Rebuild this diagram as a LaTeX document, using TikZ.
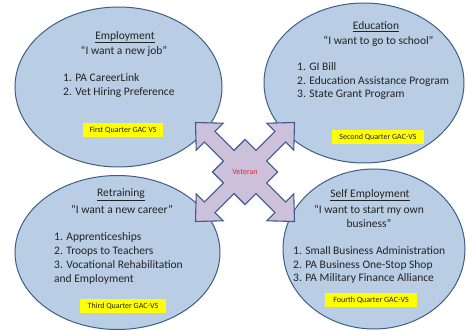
\documentclass[tikz,border=0pt]{standalone}
\usepackage{fontspec}
\setmainfont{Carlito}
\usepackage{tikz}
\usetikzlibrary{calc,positioning}
\definecolor{bubblefill}{RGB}{185,205,229}
\definecolor{bubbleline}{RGB}{62,94,138}
\definecolor{crossfill}{RGB}{204,192,218}
\definecolor{crossline}{RGB}{62,90,140}
\definecolor{vetred}{RGB}{228,40,60}
\definecolor{tagyellow}{RGB}{255,255,0}
\definecolor{inkgray}{RGB}{35,35,35}
\tikzset{
	bubble/.style={draw=bubbleline, fill=bubblefill, line width=1pt},
	heading/.style={font=\fontsize{11.5}{13.8}\selectfont, text=inkgray, inner sep=0pt, align=center},
	itemlist/.style={font=\fontsize{11.5}{13.8}\selectfont, text=inkgray, inner sep=0pt, align=left, anchor=west},
	quartertag/.style={fill=tagyellow, font=\fontsize{8}{9}\selectfont, text=inkgray, inner sep=0pt, minimum height=14pt}
}

\begin{document}
\begin{tikzpicture}[x=1pt,y=-1pt]
\useasboundingbox (0,0) rectangle (466,331);

       % the four bubbles
       \draw[bubble] (118.5,87) ellipse [x radius=103.5, y radius=80];
       \draw[bubble] (364,83) ellipse [x radius=100, y radius=80];
       \draw[bubble] (117.5,252.5) ellipse [x radius=102.5, y radius=77];
       \draw[bubble] (374,249) ellipse [x radius=91, y radius=80];
       
       % employment
       \node[heading] (emptitle) at (125,37) {\underline{Employment}};
       \node[heading] (empquote) at (124,51) {“I want a new job”};
       \node[itemlist] (emplist) at (63,85.5) {1. PA CareerLink\\2. Vet Hiring Preference};
       \node[quartertag, minimum width=80pt] (emptag) at (123,130) {First Quarter GAC VS};
       
       % education
       \node[heading] (edutitle) at (376,27) {\underline{Education}};
       \node[heading] (eduquote) at (378.5,41) {“I want to go to school”};
       \node[itemlist] (edulist) at (297,81) {1. GI Bill\\2. Education Assistance Program\\3. State Grant Program};
       \node[quartertag, minimum width=92pt] (edutag) at (378,137) {Second Quarter GAC-VS};
       
       % retraining
       \node[heading] (rettitle) at (121,195) {\underline{Retraining}};
       \node[heading] (retquote) at (122,209) {“I want a new career”};
       \node[itemlist] (retlist) at (54,258.5) {1. Apprenticeships\\2. Troops to Teachers\\3. Vocational Rehabilitation\\and Employment};
       \node[quartertag, minimum width=86pt] (rettag) at (123,306) {Third Quarter GAC-VS};
       
       % self employment
       \node[heading] (selftitle) at (370,195) {\underline{Self Employment}};
       \node[heading] (selfquote) at (369,216) {“I want to start my own\\business”};
       \node[itemlist] (selflist) at (293,265) {1. Small Business Administration\\2. PA Business One-Stop Shop\\3. PA Military Finance Alliance};
       \node[quartertag, minimum width=92pt] (selftag) at (371,300) {Fourth Quarter GAC-VS};
       
       % veteran cross
       \coordinate (V) at (245,172);
       \begin{scope}[shift={(V)}, rotate=45]
       \draw[fill=crossfill, draw=crossline, line width=1.1pt]
         (23,-23) -- (23,-7.5) -- (50,-7.5) -- (50,-19) -- (70,0) -- (50,19) -- (50,7.5) -- (23,7.5)
         -- (23,23) -- (7.5,23) -- (7.5,50) -- (19,50) -- (0,70) -- (-19,50) -- (-7.5,50) -- (-7.5,23)
         -- (-23,23) -- (-23,7.5) -- (-50,7.5) -- (-50,19) -- (-70,0) -- (-50,-19) -- (-50,-7.5) -- (-23,-7.5)
         -- (-23,-23) -- (-7.5,-23) -- (-7.5,-50) -- (-19,-50) -- (0,-70) -- (19,-50) -- (7.5,-50) -- (7.5,-23)
         -- cycle;
       \end{scope}
       \node[font=\fontsize{8}{9}\selectfont, text=vetred, inner sep=0pt] (vet) at (V) {Veteran};
\end{tikzpicture}
\end{document}
